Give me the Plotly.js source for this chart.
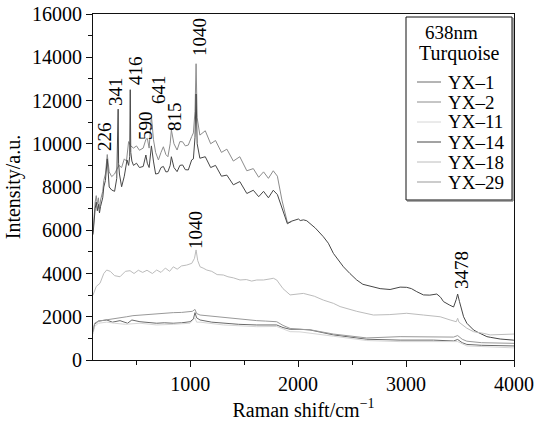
<!DOCTYPE html>
<html>
<head>
<meta charset="utf-8">
<script src="https://cdn.plot.ly/plotly-3.0.1.min.js"></script>
<style>html,body{margin:0;padding:0;background:#fff;}#chart{width:534px;height:425px;}</style>
</head>
<body>
<div id="chart"></div>
<script>
// Series names and colours
const seriesNames = ["YX–1", "YX–2", "YX–11", "YX–14", "YX–18", "YX–29"];
const seriesColors = ["#6a6a6a", "#8c8c8c", "#d6d6d6", "#474747", "#bcbcbc", "#999999"];
const legendTitle = ["638nm", "Turquoise"];

// YX-1 (dark, lower group middle)
const xYX1 = [100,115,150,227,280,350,420,460,535,600,690,760,844,920,999,1030,1045,1060,1092,1200,1308,1450,1617,1700,1802,1860,1926,2017,2110,2327,2636,2945,3254,3440,3478,3520,3563,3700,4000];
const yYX1 = [1300,1650,1800,1850,1750,1820,1700,1850,1770,1750,1700,1720,1700,1720,1770,1900,2190,1950,1850,1750,1700,1650,1620,1620,1620,1500,1420,1420,1390,1160,960,920,920,880,950,800,720,680,650];

// YX-2 (upper top curve)
const xYX2 = [100,110,120,130,140,150,160,170,180,190,200,215,232,250,273,300,319,340,365,390,410,430,450,475,503,530,565,590,603,620,641,660,680,706,730,752,775,794,815,826,850,879,905,930,955,983,1014,1030,1045,1055,1065,1090,1140,1190,1235,1290,1340,1400,1460,1525,1585,1635,1680,1725,1770,1808,1850,1901,1940];
const yYX2 = [5900,6800,7300,7600,7200,7500,7000,7400,7600,7800,8300,8600,9500,8700,8480,8600,8800,9000,8900,9300,9200,10100,9900,9800,9900,9700,9800,10200,10250,9800,11300,10200,9600,9250,9600,9860,9500,9400,10000,10640,10000,9710,10100,10090,9900,9940,10330,10500,11500,13700,11200,10400,10600,10000,10150,9600,9750,9200,9400,8750,8850,8450,8700,8400,8750,8500,7400,6350,6400];

// YX-11 (very light, lowest)
const xYX11 = [100,115,150,227,300,400,535,690,844,999,1045,1060,1092,1308,1617,1802,1926,2017,2327,2636,2945,3254,3478,3563,4000];
const yYX11 = [1200,1550,1700,1750,1700,1650,1700,1620,1650,1700,1950,1750,1750,1620,1540,1550,1310,1300,1100,900,850,850,850,650,560];

// YX-14 (dark top curve, continues to 4000)
const xYX14 = [100,110,120,130,140,150,160,170,180,190,200,215,232,250,273,300,320,333,337,345,365,390,415,430,440,445,450,460,475,503,530,565,590,603,620,641,660,680,706,730,752,775,794,815,826,850,879,905,930,955,983,1014,1030,1045,1055,1065,1090,1140,1190,1235,1290,1340,1400,1460,1525,1585,1635,1680,1725,1770,1808,1850,1901,1940,1978,2003,2020,2050,2080,2110,2160,2234,2280,2327,2389,2420,2480,2543,2600,2698,2760,2852,2945,3006,3050,3099,3130,3161,3220,3254,3285,3320,3347,3400,3440,3465,3478,3495,3533,3563,3625,3657,3749,3780,3872,3994,4000];
const yYX14 = [5800,6600,7000,7300,6900,7200,6800,7100,7300,7500,8000,8300,9300,8000,7860,7800,8400,11600,9100,8600,8010,8500,9250,9000,9400,12500,9600,9200,9000,9100,8900,8950,9480,9100,8900,9900,9200,8600,8630,8900,8950,8700,8710,9000,9400,8900,8710,9000,9020,8800,8790,9250,9300,10300,12300,10000,9330,9400,8900,9000,8500,8550,8100,8250,7700,7850,7550,7800,7500,7850,7650,7000,6300,6420,6500,6520,6450,6480,6440,6320,6100,5700,5400,4930,4550,4310,4000,3700,3500,3360,3300,3260,3370,3360,3300,3160,3080,3010,3000,3040,3050,2900,2700,2550,2450,2800,3050,2700,2000,1700,1390,1300,1080,1050,970,920,900];

// YX-18 (light, middle curve)
const xYX18 = [100,130,165,200,227,260,300,350,400,443,480,520,560,600,650,690,730,770,810,844,880,920,968,1015,1040,1055,1070,1092,1120,1154,1200,1250,1308,1350,1400,1462,1520,1570,1617,1680,1740,1771,1802,1860,1926,1980,2049,2150,2234,2327,2389,2543,2636,2698,2850,2945,3006,3161,3316,3409,3465,3478,3490,3563,3625,3718,3780,4000];
const yYX18 = [3000,3400,3550,4000,4160,4100,3900,3850,4100,4130,4000,4150,4050,4150,4000,4160,4050,4250,4100,4310,4200,4350,4390,4470,4700,5090,4600,4310,4250,4160,4100,3950,3930,3850,3800,3700,3720,3650,3700,3700,3750,3780,3700,3300,3010,3050,3080,2950,2770,2620,2470,2250,2160,2080,2100,2130,2160,2080,2000,1850,1770,1930,1750,1470,1310,1230,1160,1200];

// YX-29 (medium gray, lower group top)
const xYX29 = [100,115,150,227,280,330,412,470,535,600,690,760,844,920,968,1020,1045,1060,1092,1200,1308,1450,1617,1700,1802,1860,1926,2017,2110,2327,2636,2945,3254,3440,3478,3520,3563,3700,4000];
const yYX29 = [1300,1700,1800,1850,1900,1950,2000,2050,2080,2100,2130,2150,2190,2200,2230,2250,2340,2150,2080,2020,1970,1900,1820,1800,1770,1600,1460,1420,1400,1200,1020,1080,1080,1060,1130,960,870,800,770];

// Peak labels
const peakLabels = ["226","341","416","590","641","815","1040","1040","3478"];
const peakX = [211,313,489,582,702,860,1091,1045,3509];
const peakY = [10360,12440,13410,10820,12530,11240,14940,6010,4160];

const xs = [xYX1,xYX2,xYX11,xYX14,xYX18,xYX29];
const ys = [yYX1,yYX2,yYX11,yYX14,yYX18,yYX29];

const FONT = "Liberation Serif";
const TXT = "#000";

// plot-area pixel geometry helpers (for the in-plot legend box only)
const L = 93, R = 514, T = 14, B = 360;
const px = v => (v - L) / (R - L);
const py = v => (B - v) / (B - T);

const traces = seriesNames.map((n,i)=>({
  type:"scatter", mode:"lines", name:n, x:xs[i], y:ys[i], showlegend:false,
  line:{color:seriesColors[i], width:1}
}));

const annotations = peakLabels.map((t,i)=>({
  x:peakX[i], y:peakY[i], xref:"x", yref:"y", text:t, showarrow:false,
  textangle:-90, xanchor:"center", yanchor:"middle",
  font:{family:FONT, size:19, color:TXT}
}));

// legend (drawn as box + sample lines + labels)
const legRowY = [82, 102, 122, 142, 162, 182];
const shapes = [
  {type:"rect", xref:"paper", yref:"paper", x0:px(406), x1:px(512), y0:py(200), y1:py(17),
   line:{color:"#111", width:1}, fillcolor:"#fff", layer:"above"},
  {type:"line", xref:"paper", yref:"paper", x0:px(513), x1:px(513), y0:py(201), y1:py(18),
   line:{color:"#555", width:1}, layer:"above"},
  {type:"line", xref:"paper", yref:"paper", x0:px(407), x1:px(513), y0:py(201), y1:py(201),
   line:{color:"#555", width:1}, layer:"above"}
];
seriesNames.forEach((n,i)=>{
  shapes.push({type:"line", xref:"paper", yref:"paper", x0:px(417), x1:px(441),
    y0:py(legRowY[i]), y1:py(legRowY[i]), line:{color:seriesColors[i], width:1}, layer:"above"});
  annotations.push({xref:"paper", yref:"paper", x:px(446), y:py(legRowY[i]), text:n,
    showarrow:false, xanchor:"left", yanchor:"middle", font:{family:FONT, size:19, color:TXT}});
});
annotations.push({xref:"paper", yref:"paper", x:px(423), y:py(33), text:legendTitle[0],
  showarrow:false, xanchor:"left", yanchor:"middle", font:{family:FONT, size:19, color:TXT}});
annotations.push({xref:"paper", yref:"paper", x:px(417), y:py(53), text:legendTitle[1],
  showarrow:false, xanchor:"left", yanchor:"middle", font:{family:FONT, size:20, color:TXT}});

const layout = {
  width:534, height:425,
  margin:{l:L, r:534-R, t:T, b:425-B},
  paper_bgcolor:"#fff", plot_bgcolor:"#fff",
  font:{family:FONT, size:18, color:TXT},
  showlegend:false,
  xaxis:{
    range:[100,4000], tickvals:[1000,2000,3000,4000],
    ticks:"outside", ticklen:6, tickwidth:1, tickcolor:"#111",
    minor:{dtick:500, ticks:"outside", ticklen:4, tickcolor:"#111"},
    showline:true, linecolor:"#111", linewidth:1, mirror:true,
    showgrid:false, zeroline:false,
    tickfont:{family:FONT, size:20, color:TXT},
    title:{text:"Raman shift/cm<sup>−1</sup>", font:{family:FONT, size:20, color:TXT}, standoff:8}
  },
  yaxis:{
    range:[0,16000], dtick:2000, tick0:0, tickformat:"d",
    ticks:"outside", ticklen:6, tickwidth:1, tickcolor:"#111",
    minor:{dtick:1000, ticks:"outside", ticklen:4, tickcolor:"#111"},
    showline:true, linecolor:"#111", linewidth:1, mirror:true,
    showgrid:false, zeroline:false,
    tickfont:{family:FONT, size:20, color:TXT},
    title:{text:"Intensity/a.u.", font:{family:FONT, size:20, color:TXT}, standoff:6}
  },
  shapes:shapes,
  annotations:annotations
};

Plotly.newPlot("chart", traces, layout, {displayModeBar:false, staticPlot:true});
</script>
</body>
</html>
